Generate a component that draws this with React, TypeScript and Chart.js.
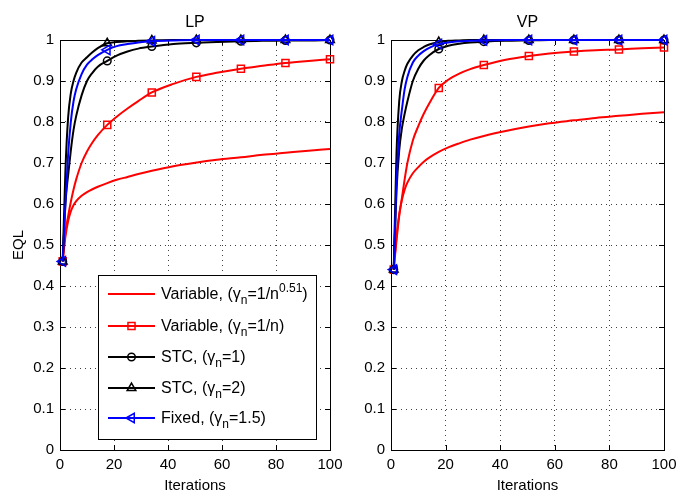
import React, { useEffect, useRef } from 'react';
import { Chart, registerables } from 'chart.js';

Chart.register(...registerables);

// ---------- data ----------
const iterations = [1, 2, 3, 4, 5, 6, 8, 10, 12, 14, 17.5, 21, 25, 29, 34, 42, 50.5, 58, 67, 75, 83.5, 92, 100];
const markerIterations = [1, 17.5, 34, 50.5, 67, 83.5, 100];
const xTickValues = [0, 20, 40, 60, 80, 100];
const yTickValues = [0, 0.1, 0.2, 0.3, 0.4, 0.5, 0.6, 0.7, 0.8, 0.9, 1];

// LP panel
const lpVariable051 = [0.46, 0.52, 0.558, 0.582, 0.597, 0.607, 0.62, 0.629, 0.636, 0.642, 0.651, 0.659, 0.666, 0.673, 0.681, 0.692, 0.701, 0.708, 0.714, 0.72, 0.725, 0.73, 0.734];
const lpVariable1n = [0.46, 0.53, 0.57, 0.605, 0.635, 0.66, 0.7, 0.728, 0.75, 0.768, 0.793, 0.813, 0.833, 0.851, 0.872, 0.893, 0.91, 0.92, 0.93, 0.937, 0.944, 0.949, 0.953];
const lpStc1 = [0.46, 0.6, 0.67, 0.73, 0.78, 0.815, 0.865, 0.9, 0.92, 0.935, 0.949, 0.962, 0.972, 0.979, 0.984, 0.99, 0.993, 0.995, 0.997, 0.998, 0.999, 0.999, 1];
const lpStc2 = [0.46, 0.68, 0.81, 0.87, 0.9, 0.92, 0.945, 0.958, 0.97, 0.98, 0.992, 0.995, 0.997, 0.998, 0.999, 1, 1, 1, 1, 1, 1, 1, 1];
const lpFixed = [0.46, 0.6, 0.72, 0.8, 0.85, 0.88, 0.917, 0.94, 0.953, 0.963, 0.976, 0.985, 0.99, 0.994, 0.997, 0.999, 1, 1, 1, 1, 1, 1, 1];

// VP panel
const vpVariable051 = [0.44, 0.52, 0.575, 0.61, 0.635, 0.652, 0.675, 0.69, 0.703, 0.713, 0.727, 0.738, 0.748, 0.757, 0.766, 0.778, 0.789, 0.797, 0.804, 0.81, 0.815, 0.82, 0.824];
const vpVariable1n = [0.44, 0.51, 0.57, 0.615, 0.66, 0.7, 0.755, 0.79, 0.82, 0.845, 0.883, 0.903, 0.918, 0.929, 0.939, 0.952, 0.961, 0.967, 0.972, 0.975, 0.977, 0.98, 0.982];
const vpStc1 = [0.44, 0.63, 0.73, 0.785, 0.82, 0.85, 0.9, 0.93, 0.95, 0.963, 0.978, 0.986, 0.991, 0.994, 0.996, 0.998, 0.999, 1, 1, 1, 1, 1, 1];
const vpStc2 = [0.44, 0.72, 0.85, 0.9, 0.925, 0.942, 0.962, 0.975, 0.983, 0.989, 0.995, 0.998, 0.999, 1, 1, 1, 1, 1, 1, 1, 1, 1, 1];
const vpFixed = [0.44, 0.65, 0.77, 0.83, 0.88, 0.91, 0.945, 0.962, 0.973, 0.981, 0.99, 0.994, 0.997, 0.998, 0.999, 1, 1, 1, 1, 1, 1, 1, 1];

// legend labels as rich-text segments (s: 0 normal, -1 subscript, 1 superscript)
type Seg = { t: string; s: number };
const legendLabels: Seg[][] = [
  [{ t: 'Variable, (γ', s: 0 }, { t: 'n', s: -1 }, { t: '=1/n', s: 0 }, { t: '0.51', s: 1 }, { t: ')', s: 0 }],
  [{ t: 'Variable, (γ', s: 0 }, { t: 'n', s: -1 }, { t: '=1/n)', s: 0 }],
  [{ t: 'STC, (γ', s: 0 }, { t: 'n', s: -1 }, { t: '=1)', s: 0 }],
  [{ t: 'STC, (γ', s: 0 }, { t: 'n', s: -1 }, { t: '=2)', s: 0 }],
  [{ t: 'Fixed, (γ', s: 0 }, { t: 'n', s: -1 }, { t: '=1.5)', s: 0 }],
];

const FONT = "'Liberation Sans', Arial, Helvetica, sans-serif";

type Style = { color: string; marker: string | false; radius: number; rotation: number };
const seriesStyles: Style[] = [
  { color: '#ff0000', marker: false, radius: 0, rotation: 0 },
  { color: '#ff0000', marker: 'rect', radius: 5, rotation: 0 },
  { color: '#000000', marker: 'circle', radius: 3.8, rotation: 0 },
  { color: '#000000', marker: 'triangle', radius: 5, rotation: 0 },
  { color: '#0000ff', marker: 'triangle', radius: 5.5, rotation: -90 },
];

function drawMarker(ctx: CanvasRenderingContext2D, st: Style, x: number, y: number) {
  if (!st.marker) return;
  ctx.save();
  ctx.strokeStyle = st.color;
  ctx.lineWidth = 1.5;
  ctx.beginPath();
  const r = st.radius;
  if (st.marker === 'rect') {
    const h = r * Math.SQRT1_2;
    ctx.rect(x - h, y - h, 2 * h, 2 * h);
  } else if (st.marker === 'circle') {
    ctx.arc(x, y, r, 0, Math.PI * 2);
  } else {
    const rad = (st.rotation * Math.PI) / 180;
    for (let k = 0; k < 3; k++) {
      const a = rad + (k * 2 * Math.PI) / 3;
      const px = x + Math.sin(a) * r;
      const py = y - Math.cos(a) * r;
      if (k === 0) ctx.moveTo(px, py);
      else ctx.lineTo(px, py);
    }
    ctx.closePath();
  }
  ctx.stroke();
  ctx.restore();
}

function drawRich(ctx: CanvasRenderingContext2D, segs: Seg[], x: number, y: number) {
  let cx = x;
  ctx.textBaseline = 'alphabetic';
  ctx.textAlign = 'left';
  ctx.fillStyle = '#000';
  for (const sg of segs) {
    if (sg.s === 0) {
      ctx.font = `16px ${FONT}`;
      ctx.fillText(sg.t, cx, y);
    } else if (sg.s < 0) {
      ctx.font = `12px ${FONT}`;
      ctx.fillText(sg.t, cx, y + 5);
    } else {
      ctx.font = `12px ${FONT}`;
      ctx.fillText(sg.t, cx, y - 7);
    }
    cx += ctx.measureText(sg.t).width;
  }
}

function makeChart(
  canvas: HTMLCanvasElement,
  title: string,
  series: number[][],
  yWidth: number,
  rightPad: number,
  showLegend: boolean,
  showYTitle: boolean
) {
  const datasets = series.map((vals, i) => {
    const st = seriesStyles[i];
    return {
      label: 'series' + i,
      data: iterations.map((x, k) => ({ x, y: vals[k] })),
      borderColor: st.color,
      backgroundColor: 'rgba(0,0,0,0)',
      borderWidth: 2,
      cubicInterpolationMode: 'monotone' as const,
      pointStyle: st.marker || 'circle',
      pointRotation: st.rotation,
      pointBorderWidth: 1.5,
      pointBorderColor: st.color,
      pointBackgroundColor: 'rgba(0,0,0,0)',
      pointRadius: (c: any) =>
        st.marker && markerIterations.includes(iterations[c.dataIndex]) ? st.radius : 0,
      pointHoverRadius: 0,
      clip: false as any,
      order: 5 - i,
    };
  });

  const framePlugin = {
    id: 'frame',
    beforeDatasetsDraw(chart: any) {
      const { ctx, chartArea: a, scales } = chart;
      ctx.save();
      ctx.strokeStyle = '#000';
      ctx.lineWidth = 1;
      ctx.beginPath();
      for (const v of xTickValues) {
        const px = Math.round(scales.x.getPixelForValue(v)) + 0.5;
        ctx.moveTo(px, a.bottom);
        ctx.lineTo(px, a.bottom - 5);
        ctx.moveTo(px, a.top);
        ctx.lineTo(px, a.top + 5);
      }
      for (const v of yTickValues) {
        const py = Math.round(scales.y.getPixelForValue(v)) + 0.5;
        ctx.moveTo(a.left, py);
        ctx.lineTo(a.left + 5, py);
        ctx.moveTo(a.right, py);
        ctx.lineTo(a.right - 5, py);
      }
      ctx.stroke();
      ctx.strokeRect(Math.round(a.left) + 0.5, Math.round(a.top) + 0.5, Math.round(a.right - a.left), Math.round(a.bottom - a.top));
      ctx.restore();
    },
    afterDraw(chart: any) {
      const { ctx, chartArea: a } = chart;
      ctx.save();
      ctx.fillStyle = '#000';
      ctx.font = `16px ${FONT}`;
      ctx.textAlign = 'center';
      ctx.textBaseline = 'alphabetic';
      const cx = (a.left + a.right) / 2;
      ctx.fillText(title, cx, 27);
      ctx.font = `15px ${FONT}`;
      ctx.fillText('Iterations', cx, 490);
      if (showYTitle) {
        ctx.save();
        ctx.translate(23, (a.top + a.bottom) / 2);
        ctx.rotate(-Math.PI / 2);
        ctx.fillText('EQL', 0, 0);
        ctx.restore();
      }
      if (showLegend) {
        const lx = 98, ly = 275, lw = 218, lh = 164;
        ctx.fillStyle = '#fff';
        ctx.fillRect(lx, ly, lw, lh);
        ctx.strokeStyle = '#000';
        ctx.lineWidth = 1;
        ctx.strokeRect(lx + 0.5, ly + 0.5, lw, lh);
        const rows = [294, 326, 357, 388, 418];
        legendLabels.forEach((segs, i) => {
          const st = seriesStyles[i];
          const y = rows[i];
          ctx.strokeStyle = st.color;
          ctx.lineWidth = 2;
          ctx.beginPath();
          ctx.moveTo(108, y);
          ctx.lineTo(155, y);
          ctx.stroke();
          drawMarker(ctx, st, 131.5, y);
          drawRich(ctx, segs, 161, y + 5);
        });
      }
      ctx.restore();
    },
  };

  return new Chart(canvas, {
    type: 'line',
    data: { datasets },
    options: {
      responsive: false,
      animation: false,
      devicePixelRatio: 1,
      layout: { padding: { top: 40, right: rightPad, left: 0, bottom: 0 } },
      plugins: { legend: { display: false }, tooltip: { enabled: false }, title: { display: false } },
      scales: {
        x: {
          type: 'linear',
          min: 0,
          max: 100,
          afterFit(scale: any) {
            scale.height = 47;
            scale.paddingLeft = 0;
            scale.paddingRight = 0;
          },
          afterBuildTicks(scale: any) {
            scale.ticks = xTickValues.map((v) => ({ value: v }));
          },
          ticks: {
            color: '#000',
            font: { family: FONT, size: 15 },
            padding: 6,
            maxRotation: 0,
            autoSkip: false,
          },
          grid: { color: 'rgba(0,0,0,0.75)', lineWidth: 1, drawTicks: false },
          border: { display: false, dash: [1, 4] },
        },
        y: {
          type: 'linear',
          min: 0,
          max: 1,
          afterFit(scale: any) {
            scale.width = yWidth;
            scale.paddingTop = 0;
            scale.paddingBottom = 0;
          },
          afterBuildTicks(scale: any) {
            scale.ticks = yTickValues.map((v) => ({ value: v }));
          },
          ticks: {
            color: '#000',
            font: { family: FONT, size: 15 },
            padding: 6,
            autoSkip: false,
            callback: (v: any) => String(Number(Number(v).toFixed(1))),
          },
          grid: { color: 'rgba(0,0,0,0.75)', lineWidth: 1, drawTicks: false },
          border: { display: false, dash: [1, 4] },
        },
      },
    },
    plugins: [framePlugin],
  } as any);
}

export default function App() {
  const leftRef = useRef<HTMLCanvasElement>(null);
  const rightRef = useRef<HTMLCanvasElement>(null);

  useEffect(() => {
    const c1 = makeChart(
      leftRef.current!,
      'LP',
      [lpVariable051, lpVariable1n, lpStc1, lpStc2, lpFixed],
      60,
      30,
      true,
      true
    );
    const c2 = makeChart(
      rightRef.current!,
      'VP',
      [vpVariable051, vpVariable1n, vpStc1, vpStc2, vpFixed],
      53,
      12,
      false,
      false
    );
    return () => {
      c1.destroy();
      c2.destroy();
    };
  }, []);

  return (
    <div style={{ position: 'fixed', left: 0, top: 0, width: 676, height: 497, background: '#fff' }}>
      <canvas ref={leftRef} width={360} height={497} style={{ position: 'absolute', left: 0, top: 0, width: 360, height: 497 }} />
      <canvas ref={rightRef} width={338} height={497} style={{ position: 'absolute', left: 338, top: 0, width: 338, height: 497 }} />
    </div>
  );
}
